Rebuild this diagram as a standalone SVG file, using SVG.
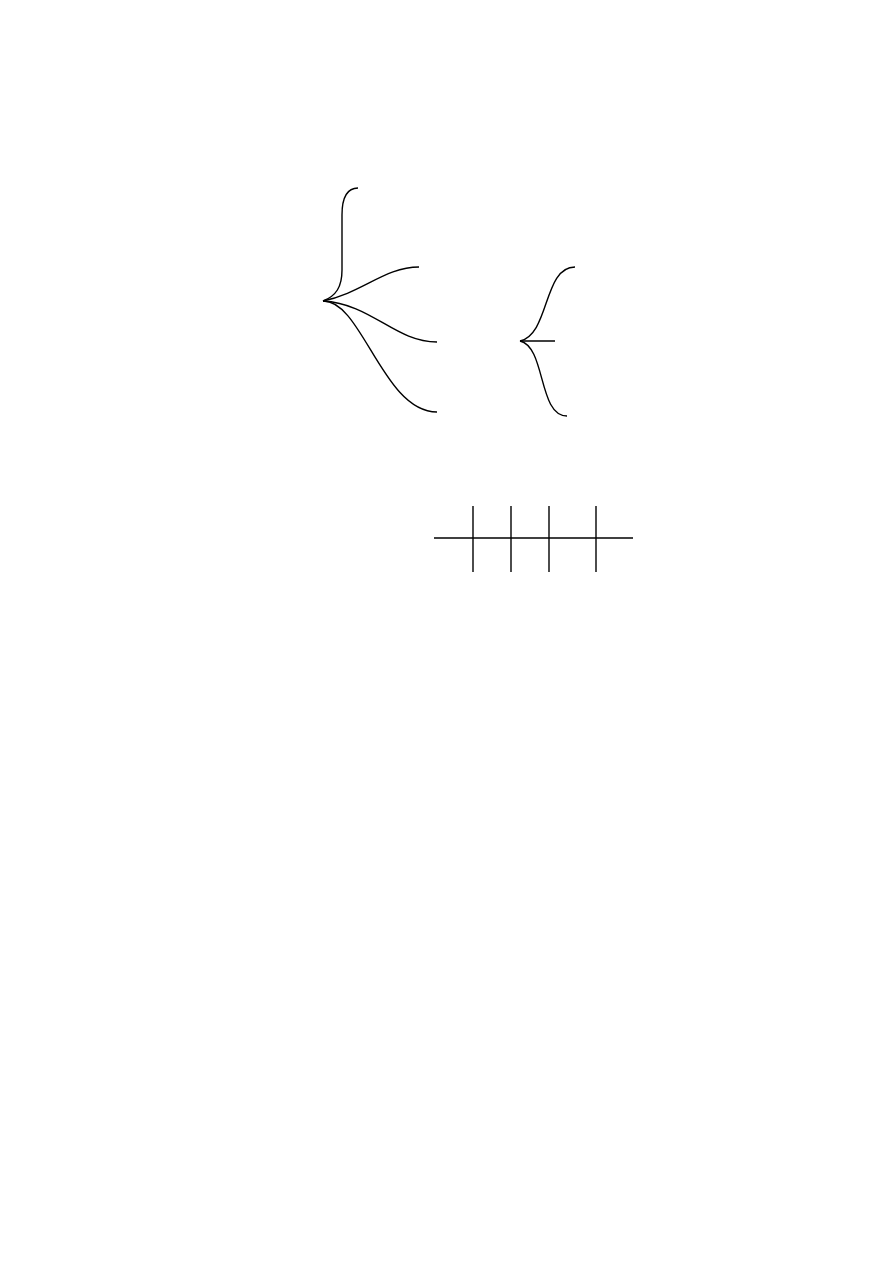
<svg xmlns="http://www.w3.org/2000/svg" width="893" height="1263" viewBox="0 0 893 1263">
<style>
.ln{fill:none;stroke:#000;stroke-width:1.4;stroke-linecap:butt}
</style>
<rect width="893" height="1263" fill="#fff"/>
<g id="connectors">
<g id="brace1">
<path class="ln" d="M323,301 C336,296 342,287 342,270 L342,215 C342,196 348,188 358,188"/>
<path class="ln" d="M323,301 C362,293 385,267 419,267"/>
<path class="ln" d="M323,301 C372,304 395,342 437,342"/>
<path class="ln" d="M323,301 C362,300 383,412 437,412"/>
</g>
<g id="brace2">
<path class="ln" d="M520,341 C550,334 543,267 575,267"/>
<path class="ln" d="M520,341 C546,347 538,416 567,416"/>
<path class="ln" d="M520,341 L555,341"/>
</g>
<g id="grid">
<path class="ln" d="M434,538 L633,538"/>
<path class="ln" d="M473,506 L473,572"/>
<path class="ln" d="M511,506 L511,572"/>
<path class="ln" d="M549,506 L549,572"/>
<path class="ln" d="M596,506 L596,572"/>
</g>
</g>
</svg>
